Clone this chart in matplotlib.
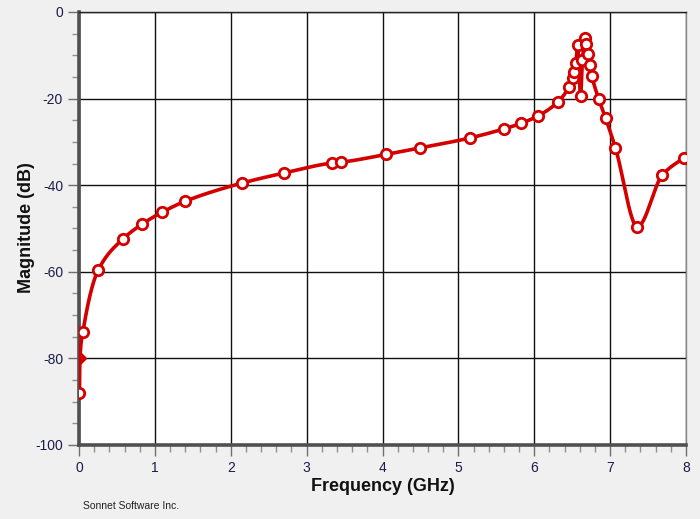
import numpy as np
import matplotlib
matplotlib.use("Agg")
import matplotlib.pyplot as plt
from matplotlib.ticker import MultipleLocator

# Data (frequency in GHz, magnitude in dB)
freq = [0.005, 0.05, 0.25, 0.58, 0.83, 1.1, 1.4, 2.15, 2.7, 3.33, 3.45,
        4.05, 4.5, 5.15, 5.6, 5.83, 6.05, 6.31, 6.46, 6.51, 6.53, 6.55,
        6.57, 6.61, 6.635, 6.67, 6.685, 6.71, 6.735, 6.76, 6.85, 6.94,
        7.07, 7.36, 7.69, 7.98, 8.0]
mag = [-88.0, -74.0, -59.7, -52.4, -49.0, -46.2, -43.7, -39.5, -37.2,
       -34.9, -34.7, -32.9, -31.4, -29.1, -27.0, -25.7, -24.0, -20.8,
       -17.3, -15.3, -13.8, -11.8, -7.6, -19.4, -11.2, -6.0, -7.4, -9.8,
       -12.3, -14.8, -20.1, -24.5, -31.4, -49.6, -37.6, -33.7, -33.5]
marker_mask = [True] * 36 + [False]

# filled marker
fill_freq = [0.012]
fill_mag = [-80.0]

x_ticks = [0, 1, 2, 3, 4, 5, 6, 7, 8]
y_ticks = [-100, -80, -60, -40, -20, 0]


def pchip(x, y, xs):
    x = np.asarray(x, float); y = np.asarray(y, float)
    h = np.diff(x); d = np.diff(y) / h
    m = np.zeros_like(y)
    for k in range(1, len(x) - 1):
        if d[k - 1] * d[k] > 0:
            w1 = 2 * h[k] + h[k - 1]; w2 = h[k] + 2 * h[k - 1]
            m[k] = (w1 + w2) / (w1 / d[k - 1] + w2 / d[k])
    m[0] = d[0]; m[-1] = d[-1]
    idx = np.clip(np.searchsorted(x, xs) - 1, 0, len(x) - 2)
    t = (xs - x[idx]) / h[idx]
    h00 = 2 * t**3 - 3 * t**2 + 1; h10 = t**3 - 2 * t**2 + t
    h01 = -2 * t**3 + 3 * t**2; h11 = t**3 - t**2
    return (h00 * y[idx] + h10 * h[idx] * m[idx] + h01 * y[idx + 1]
            + h11 * h[idx] * m[idx + 1])

plt.rcParams['font.family'] = ['Liberation Sans', 'DejaVu Sans']

fig = plt.figure(figsize=(7.0, 5.19), dpi=100, facecolor='#f0f0f0')
ax = fig.add_axes([0.1129, 0.1426, 0.8671, 0.8343])
ax.set_facecolor('white')

allx = np.array(freq + fill_freq); ally = np.array(mag + fill_mag)
o = np.argsort(allx)
xs = np.linspace(allx[o][0], allx[o][-1], 4000)
ys = pchip(allx[o], ally[o], xs)
red = '#d40000'
ax.plot(xs, ys, color=red, lw=2.6, zorder=3, solid_capstyle='round')
fx = np.array(freq)[marker_mask]; fy = np.array(mag)[marker_mask]
ax.plot(fx, fy, 'o', ms=7.5, mfc='white', mec=red, mew=2, zorder=4)
ax.plot(fill_freq, fill_mag, marker='D', ms=6, color=red, ls='none', zorder=5)

ax.set_xlim(0, 8)
ax.set_ylim(-100, 0)
ax.set_xticks(x_ticks)
ax.set_yticks(y_ticks)
ax.xaxis.set_minor_locator(MultipleLocator(0.2))
ax.yaxis.set_minor_locator(MultipleLocator(5))
ax.grid(True, which='major', color='#111111', lw=1.0, zorder=1)
ax.tick_params(which='major', length=8, width=1, color='#707070',
               labelsize=10, labelcolor='#1c1c4a', direction='out')
ax.tick_params(which='minor', length=5, width=1, color='#909090', direction='out')
ax.set_yticklabels([str(v) for v in y_ticks])

for s in ['left', 'bottom']:
    ax.spines[s].set_linewidth(2.6)
    ax.spines[s].set_color('#505050')
ax.spines['top'].set_linewidth(1.0)
ax.spines['top'].set_color('#222222')
ax.spines['right'].set_linewidth(1.0)
ax.spines['right'].set_color('#888888')

ax.set_xlabel('Frequency (GHz)', fontsize=13, fontweight='bold', color='#111111')
ax.set_ylabel('Magnitude (dB)', fontsize=13, fontweight='bold', color='#111111')
ax.xaxis.set_label_coords((383 - 79) / 607, -(478 - 445) / 433, transform=ax.transAxes)
ax.yaxis.set_label_coords(-(79 - 35) / 607, (445 - 228) / 433, transform=ax.transAxes)
fig.text(83 / 700, 1 - 506 / 519, 'Sonnet Software Inc.', fontsize=7.5,
         color='#222222', va='center', ha='left')

fig.savefig('out.png', dpi=100, facecolor=fig.get_facecolor())
